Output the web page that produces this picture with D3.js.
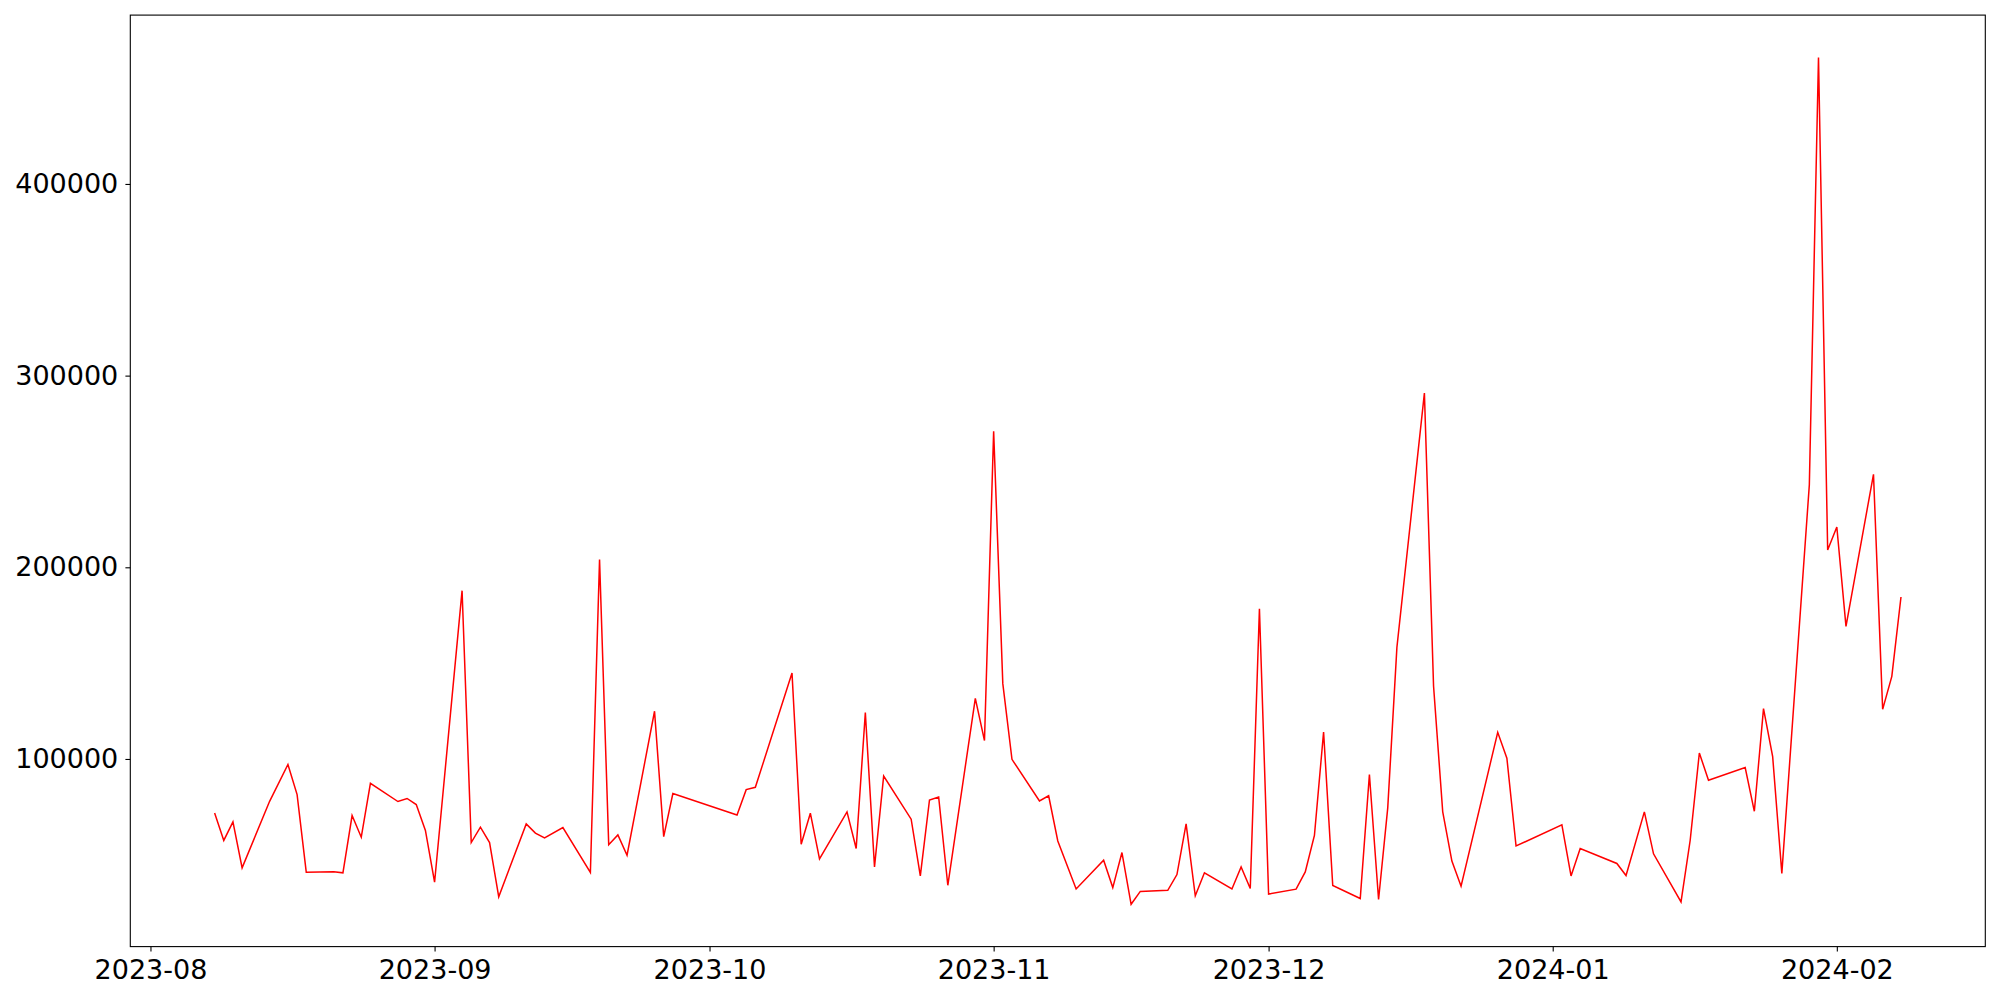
<!DOCTYPE html>
<html>
<head>
<meta charset="utf-8">
<script src="https://cdn.jsdelivr.net/npm/d3@7"></script>
<style>
  html, body { margin: 0; padding: 0; background: #fff; }
  svg { display: block; }
  text { font-family: "DejaVu Sans", sans-serif; }
</style>
</head>
<body>
<svg id="chart" width="2000" height="1000"></svg>
<script>
// ---- data ----
const dates = [
  "2023-08-08","2023-08-09","2023-08-10","2023-08-11","2023-08-14","2023-08-16","2023-08-17","2023-08-18",
  "2023-08-21","2023-08-22","2023-08-23","2023-08-24","2023-08-25","2023-08-28","2023-08-29","2023-08-30",
  "2023-08-31","2023-09-01","2023-09-04","2023-09-05","2023-09-06","2023-09-07","2023-09-08","2023-09-11",
  "2023-09-12","2023-09-13","2023-09-15","2023-09-18","2023-09-19","2023-09-20","2023-09-21","2023-09-22",
  "2023-09-25","2023-09-26","2023-09-27","2023-10-04","2023-10-05","2023-10-06","2023-10-10","2023-10-11",
  "2023-10-12","2023-10-13","2023-10-16","2023-10-17","2023-10-18","2023-10-19","2023-10-20","2023-10-23",
  "2023-10-24","2023-10-25","2023-10-26","2023-10-27","2023-10-30","2023-10-31","2023-11-01","2023-11-02",
  "2023-11-03","2023-11-06","2023-11-07","2023-11-08","2023-11-10","2023-11-13","2023-11-14","2023-11-15",
  "2023-11-16","2023-11-17","2023-11-20","2023-11-21","2023-11-22","2023-11-23","2023-11-24","2023-11-27",
  "2023-11-28","2023-11-29","2023-11-30","2023-12-01","2023-12-04","2023-12-05","2023-12-06","2023-12-07",
  "2023-12-08","2023-12-11","2023-12-12","2023-12-13","2023-12-14","2023-12-15","2023-12-18","2023-12-19",
  "2023-12-20","2023-12-21","2023-12-22","2023-12-26","2023-12-27","2023-12-28","2024-01-02","2024-01-03",
  "2024-01-04","2024-01-08","2024-01-09","2024-01-11","2024-01-12","2024-01-15","2024-01-16","2024-01-17",
  "2024-01-18","2024-01-22","2024-01-23","2024-01-24","2024-01-25","2024-01-26","2024-01-29","2024-01-30",
  "2024-01-31","2024-02-01","2024-02-02","2024-02-05","2024-02-06","2024-02-07","2024-02-08"
];
const values = [
  71800, 57500, 67200, 43200, 77900, 97100, 81400, 40900,
  41100, 40600, 70500, 59200, 87300, 77800, 79400, 76200,
  62700, 35700, 187800, 56400, 64400, 56400, 28100, 66100,
  61300, 58800, 64200, 40800, 204000, 55300, 60400, 49800,
  124900, 59500, 82000, 70800, 84000, 85200, 144800, 55500,
  71700, 47900, 72400, 53300, 124200, 43700, 91100, 68600,
  39000, 78600, 80200, 34100, 131600, 109600, 271000, 139300,
  99800, 78100, 80800, 57200, 32200, 47200, 32900, 51200,
  24200, 30900, 31500, 39700, 66100, 28600, 40600, 32200,
  43700, 32400, 178400, 29500, 32100, 41100, 60100, 114100,
  34000, 27200, 91900, 26700, 74500, 158200, 290900, 137900,
  72400, 46700, 33600, 113900, 100400, 54600, 65600, 39000,
  53300, 45500, 39200, 72400, 50500, 25400, 57600, 103100,
  88900, 95500, 72700, 126300, 101200, 40300, 243000, 466000,
  209000, 221000, 169200, 248500, 125900, 143100, 184500
];
const yTickValues = [100000, 200000, 300000, 400000];
const xTickLabels = ["2023-08","2023-09","2023-10","2023-11","2023-12","2024-01","2024-02"];

// ---- layout ----
const L = 130.3, R = 1985.3, T = 15.1, B = 946.6;
const parse = d3.timeParse("%Y-%m-%d");
const pts = dates.map((d, i) => ({ date: parse(d), value: values[i] }));

const tExt = d3.extent(pts, d => d.date);
const tSpan = tExt[1] - tExt[0];
const x = d3.scaleTime()
  .domain([new Date(+tExt[0] - 0.05 * tSpan), new Date(+tExt[1] + 0.05 * tSpan)])
  .range([L, R]);

const vExt = d3.extent(values);
const vSpan = vExt[1] - vExt[0];
const y = d3.scaleLinear()
  .domain([vExt[0] - 0.05 * vSpan, vExt[1] + 0.05 * vSpan])
  .range([B, T]);

const svg = d3.select("#chart");
svg.append("rect").attr("width", 2000).attr("height", 1000).attr("fill", "#fff");

// line
const line = d3.line().x(d => x(d.date)).y(d => y(d.value));
svg.append("path")
  .datum(pts)
  .attr("fill", "none")
  .attr("stroke", "#ff0000")
  .attr("stroke-width", 1.5)
  .attr("stroke-linejoin", "miter")
  .attr("d", line);

// x axis
const xTicks = xTickLabels.map(s => d3.timeParse("%Y-%m")(s));
const xAxis = d3.axisBottom(x)
  .tickValues(xTicks)
  .tickFormat(d3.timeFormat("%Y-%m"))
  .tickSize(4.9)
  .tickPadding(8.3);
const gx = svg.append("g").attr("transform", `translate(0,${B})`).call(xAxis);
gx.select(".domain").remove();
gx.selectAll(".tick line").attr("stroke", "#000").attr("stroke-width", 1.1);
gx.selectAll(".tick text").attr("fill", "#000").style("font-size", "27px")
  .style("font-family", "'DejaVu Sans', sans-serif");

// y axis
const yAxis = d3.axisLeft(y)
  .tickValues(yTickValues)
  .tickFormat(d3.format("d"))
  .tickSize(4.9)
  .tickPadding(7.1);
const gy = svg.append("g").attr("transform", `translate(${L},0)`).call(yAxis);
gy.select(".domain").remove();
gy.selectAll(".tick line").attr("stroke", "#000").attr("stroke-width", 1.1);
gy.selectAll(".tick text").attr("fill", "#000").style("font-size", "27px")
  .style("font-family", "'DejaVu Sans', sans-serif");

// frame
svg.append("rect")
  .attr("x", L).attr("y", T)
  .attr("width", R - L).attr("height", B - T)
  .attr("fill", "none")
  .attr("stroke", "#000")
  .attr("stroke-width", 1.1);
</script>
</body>
</html>
